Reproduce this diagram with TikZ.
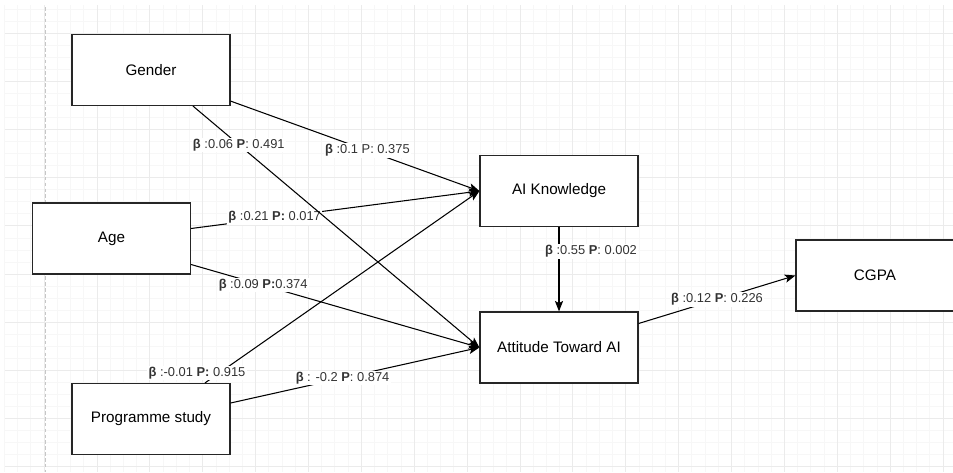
\documentclass[tikz,border=0pt]{standalone}
\usepackage{fontspec}
\setmainfont{Liberation Sans}
\usetikzlibrary{arrows.meta,calc}

\begin{document}
\begin{tikzpicture}[x=0.03cm, y=-0.03cm,
    minor/.style={gray!6, line width=0.6pt},
    major/.style={gray!16, line width=0.6pt},
    box/.style={draw=black!85, line width=1pt, fill=white, inner sep=0pt,
        minimum width=4.74cm, minimum height=2.13cm,
        font=\fontsize{13}{15}\selectfont},
    link/.style={line width=0.9pt, -{Stealth[length=9pt, width=7pt, inset=2pt]}},
    lab/.style={fill=white, inner sep=1pt, text=black!80,
        font=\fontsize{11}{13}\selectfont}]

    % 背景网格
    \fill[white] (0,0) rectangle (953,472);
    \useasboundingbox (0,0) rectangle (953,472);
    \foreach \i in {-3,...,68}
        \draw[minor] ({44+13.22*\i},5) -- ({44+13.22*\i},472);
    \foreach \j in {-2,...,36}
        \draw[minor] (5,{33+12.05*\j}) -- (953,{33+12.05*\j});
    \foreach \i in {0,...,17}
        \draw[major] ({44+52.88*\i},5) -- ({44+52.88*\i},472);
    \foreach \j in {0,...,9}
        \draw[major] (5,{33+48.2*\j}) -- (953,{33+48.2*\j});
    \draw[gray!45, line width=0.6pt, dash pattern=on 3pt off 2pt] (45,7) -- (45,472);

    % 变量
    \node[box] (gender) at (151,70) {Gender};
    \node[box] (age) at (111.5,238.5) {Age};
    \node[box] (prog) at (151,419) {Programme study};
    \node[box] (know) at (559,191) {AI Knowledge};
    \node[box] (att) at (559,347.5) {Attitude Toward AI};
    \node[box] (cgpa) at (875,275.5) {CGPA};

    % 路径系数
    \draw[link] ($(age.east)+(0,-10)$) -- node[lab, pos=0.29] {\textbf{β} :0.21 \textbf{P:} 0.017} (know.west);
    \draw[link] ($(gender.south east)+(0,-5)$) -- node[lab, pos=0.55] {\textbf{β} :0.1 P: 0.375} (know.west);
    \draw[link] ($(gender.south)+(42,0)$) -- node[lab, pos=0.16] {\textbf{β} :0.06 \textbf{P}: 0.491} (att.west);
    \draw[link] ($(age.east)+(0,26)$) -- node[lab, pos=0.25] {\textbf{β} :0.09 \textbf{P:}0.374} (att.west);
    \draw[link] ($(prog.north)+(54,0)$) -- node[lab, pos=0, shift={(-8,-10)}] {\textbf{β} :-0.01 \textbf{P:} 0.915} (know.west);
    \draw[link] ($(prog.east)+(0,-16)$) -- node[lab, pos=0.45] {\textbf{β} : -0.2 \textbf{P}: 0.874} (att.west);
    \draw[link] (know) -- node[lab, pos=0.29, shift={(32,0)}] {\textbf{β} :0.55 \textbf{P}: 0.002} (att);
    \draw[link] ($(att.east)+(0,-24)$) -- node[lab, pos=0.5] {\textbf{β} :0.12 \textbf{P}: 0.226} (cgpa.west);

\end{tikzpicture}
\end{document}
